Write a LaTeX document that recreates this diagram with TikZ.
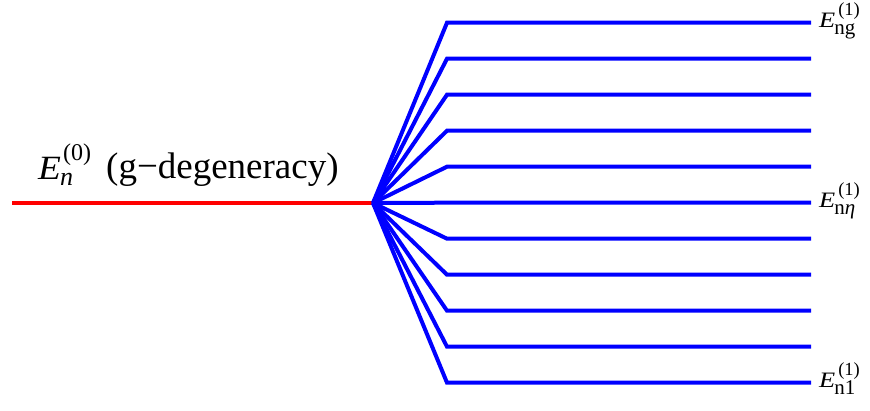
\documentclass[tikz,border=0pt]{standalone}
\usepackage{fontspec}
\usepackage{graphicx}
\setmainfont{Liberation Serif}
% small level label: E with subscript #1 and superscript (1)
\newcommand{\mylevel}[1]{%
  \scalebox{1.2}[1]{\fontsize{22}{25}\selectfont\itshape E}%
  \kern-1pt\rlap{\raisebox{-7.5pt}{\fontsize{21}{23}\selectfont #1}}%
  \kern4pt\raisebox{12pt}{\fontsize{18.5}{21}\selectfont (1)}}
\begin{document}
\begin{tikzpicture}[x=1pt,y=1pt,
  redline/.style={draw=red,line width=4pt},
  blueline/.style={draw=blue,line width=4pt,line join=miter},
  mathlabel/.style={inner sep=0pt,anchor=base west},
  textlabel/.style={font=\fontsize{37}{44}\selectfont,inner sep=0pt,anchor=base west},
  smalllabel/.style={inner sep=0pt,anchor=base west}]
\useasboundingbox (0,0) rectangle (870,410);
\coordinate (start) at (12,207);
\coordinate (o) at (373,207);
\draw[redline] (start) -- (o);
\foreach \i in {0,...,10} {
  \pgfmathsetmacro\yy{410-(22.7+36.0*\i)}
  \coordinate (c\i) at (447,\yy);
  \coordinate (e\i) at (811,\yy);
  \draw[blueline] (o) -- (c\i) -- (e\i);
}
\node[mathlabel] (mainE) at (38,230.7) {%
  \scalebox{1.1}[1]{\fontsize{34}{38}\selectfont\itshape E}%
  \kern-1pt\rlap{\raisebox{-6.5pt}{\fontsize{26}{29}\selectfont\itshape n}}%
  \kern3pt\raisebox{19pt}{\fontsize{24}{27}\selectfont (0)}};
\node[textlabel] (maintext) at (106,231) {(g−degeneracy)};
\node[smalllabel] (lg) at ([xshift=8pt,yshift=-4.6pt]e0) {\mylevel{ng}};
\node[smalllabel] (leta) at ([xshift=8pt,yshift=-4.6pt]e5) {\mylevel{n\itshape η}};
\node[smalllabel] (l1) at ([xshift=8pt,yshift=-4.6pt]e10) {\mylevel{n1}};
\end{tikzpicture}
\end{document}
